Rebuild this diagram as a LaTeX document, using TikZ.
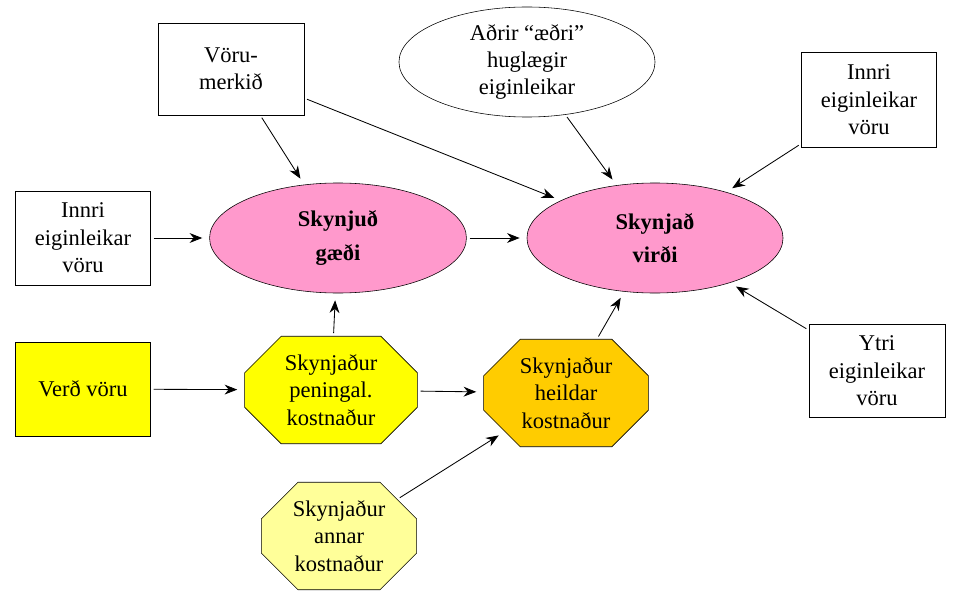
\documentclass[tikz,border=0pt]{standalone}
\usepackage{fontspec}
\setmainfont{Liberation Serif}
\usetikzlibrary{arrows.meta}
\usetikzlibrary{shapes.geometric,shapes.misc}
\definecolor{bleikur}{HTML}{FF99CC}
\definecolor{gulur}{HTML}{FFFF00}
\definecolor{ljosgulur}{HTML}{FFFF99}
\definecolor{appels}{HTML}{FFCC00}
\tikzset{
  kassi/.style={draw,thin,fill=white,align=center,inner sep=0pt},
  sporb/.style={draw,thin,ellipse,align=center,inner sep=0pt,font=\fontsize{16}{24}\selectfont\bfseries},
  attk/.style={draw,thin,chamfered rectangle,chamfered rectangle xsep=13pt,chamfered rectangle ysep=13pt,align=center,inner sep=0pt},
  arr/.style={-{Stealth[length=9pt,width=7pt]},semithick,shorten >=5pt,shorten <=2pt}
}
\begin{document}
\begin{tikzpicture}[x=0.025cm,y=-0.025cm,font=\fontsize{16}{19.5}\selectfont]
\useasboundingbox (0,0) rectangle (958,597);

\node[kassi,minimum width=3.65cm,minimum height=2.3cm](vm)at(231,69){Vöru-\\merkið};
\node[draw,thin,ellipse,align=center,inner sep=0pt,minimum width=6.4cm,minimum height=2.75cm](adrir)at(527,62){Aðrir “æðri”\\huglægir\\eiginleikar};
\node[kassi,minimum width=3.38cm,minimum height=2.38cm](innri2)at(869,100){Innri\\eiginleikar\\vöru};
\node[kassi,minimum width=3.38cm,minimum height=2.35cm](innri1)at(83,238){Innri\\eiginleikar\\vöru};
\node[sporb,fill=bleikur,minimum width=6.42cm,minimum height=2.75cm](gaedi)at(338,238){Skynjuð\\gæði};
\node[sporb,fill=bleikur,minimum width=6.4cm,minimum height=2.75cm](virdi)at(655,238){Skynjað\\virði};
\node[kassi,minimum width=3.4cm,minimum height=2.32cm](ytri)at(877,371){Ytri\\eiginleikar\\vöru};
\node[kassi,fill=gulur,minimum width=3.38cm,minimum height=2.35cm](verd)at(83,389){Verð vöru};
\node[attk,fill=gulur,minimum width=4.32cm,minimum height=2.5cm](pen)at(331,390){Skynjaður\\peningal.\\kostnaður};
\node[attk,fill=appels,minimum width=4.12cm,minimum height=2.6cm](heild)at(566,393){Skynjaður\\heildar\\kostnaður};
\node[attk,fill=ljosgulur,minimum width=3.88cm,minimum height=2.68cm](annar)at(339,536){Skynjaður\\annar\\kostnaður};

\draw[arr](vm)--(gaedi);
\draw[arr](vm)--(virdi);
\draw[arr](adrir)--(virdi);
\draw[arr](innri2)--(virdi);
\draw[arr](ytri)--(virdi);
\draw[arr](innri1)--(gaedi);
\draw[arr](gaedi)--(virdi);
\draw[arr](verd)--(pen);
\draw[arr](pen)--(gaedi);
\draw[arr](pen)--(heild);
\draw[arr](heild)--(virdi);
\draw[arr](annar)--(heild);

\end{tikzpicture}
\end{document}
